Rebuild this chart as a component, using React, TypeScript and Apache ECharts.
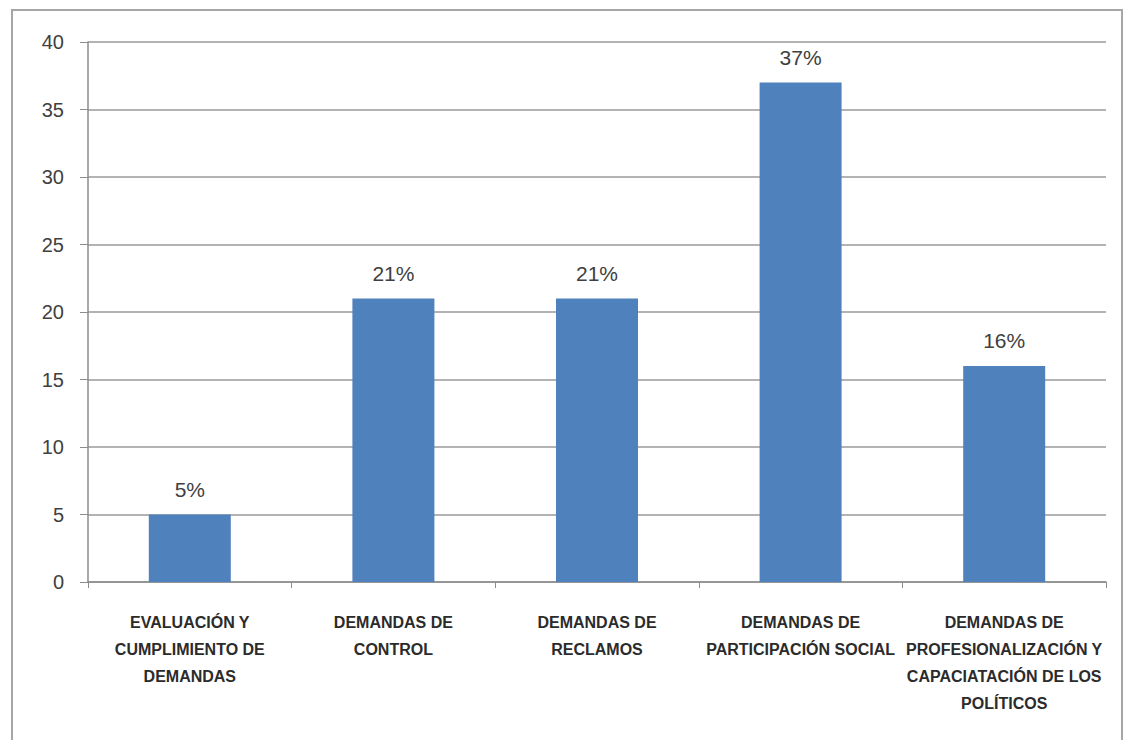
import React, { useEffect, useRef } from "react";
import * as echarts from "echarts";

const categories: string[] = [
  "EVALUACIÓN Y\nCUMPLIMIENTO DE\nDEMANDAS",
  "DEMANDAS DE\nCONTROL",
  "DEMANDAS DE\nRECLAMOS",
  "DEMANDAS DE\nPARTICIPACIÓN SOCIAL",
  "DEMANDAS DE\nPROFESIONALIZACIÓN Y\nCAPACIATACIÓN DE LOS\nPOLÍTICOS",
];
const values: number[] = [5, 21, 21, 37, 16];
const yTicks = { min: 0, max: 40, interval: 5 };

export default function App() {
  const ref = useRef<HTMLDivElement>(null);
  useEffect(() => {
    if (!ref.current) return;
    const chart = echarts.init(ref.current, null, { renderer: "svg" });
    chart.setOption({
      animation: false,
      backgroundColor: "#ffffff",
      graphic: [
        {
          type: "rect",
          shape: { x: 12, y: 10, width: 1110, height: 760 },
          style: { fill: "none", stroke: "#a6a6a6", lineWidth: 2 },
          silent: true,
        },
      ],
      grid: { left: 88, right: 20, top: 42, bottom: 158, containLabel: false },
      xAxis: {
        type: "category",
        data: categories,
        axisLine: { show: true, lineStyle: { color: "#8c8c8c", width: 1.5 } },
        axisTick: { show: true, length: 6, lineStyle: { color: "#8c8c8c" } },
        axisLabel: {
          interval: 0,
          margin: 27,
          fontFamily: "'Liberation Sans Narrow', 'Liberation Sans', sans-serif",
          fontWeight: "bold",
          fontSize: 16,
          lineHeight: 27,
          color: "#2b2b2b",
          align: "center",
        },
      },
      yAxis: {
        type: "value",
        min: yTicks.min,
        max: yTicks.max,
        interval: yTicks.interval,
        axisLine: { show: true, lineStyle: { color: "#8c8c8c", width: 1.5 } },
        axisTick: { show: true, length: 8, lineStyle: { color: "#8c8c8c" } },
        splitLine: { show: true, lineStyle: { color: "#9a9a9a", width: 1.5 } },
        axisLabel: {
          margin: 24,
          fontFamily: "'Liberation Sans', sans-serif",
          fontSize: 20,
          color: "#404040",
        },
      },
      series: [
        {
          type: "bar",
          data: values,
          barWidth: 82,
          itemStyle: { color: "#4f81bd" },
          label: {
            show: true,
            position: "top",
            distance: 15,
            formatter: (p: any) => `${p.value}%`,
            fontFamily: "'Liberation Sans', sans-serif",
            fontSize: 21,
            color: "#404040",
          },
        },
      ],
    });
    return () => chart.dispose();
  }, []);
  return (
    <div
      ref={ref}
      style={{ position: "fixed", left: 0, top: 0, width: 1126, height: 740 }}
    />
  );
}
